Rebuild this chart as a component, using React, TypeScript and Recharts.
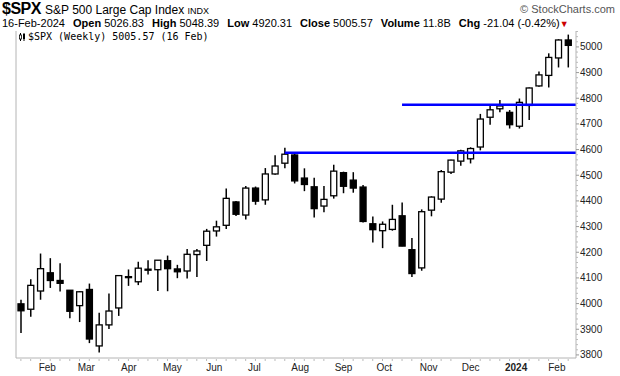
import React from 'react';
import { ComposedChart, Bar, XAxis, YAxis, ReferenceLine } from 'recharts';

// week-ending dates, one candle each
const weeks = [
  '2023-01-20', '2023-01-27', '2023-02-03', '2023-02-10', '2023-02-17', '2023-02-24',
  '2023-03-03', '2023-03-10', '2023-03-17', '2023-03-24', '2023-03-31', '2023-04-06',
  '2023-04-14', '2023-04-21', '2023-04-28', '2023-05-05', '2023-05-12', '2023-05-19',
  '2023-05-26', '2023-06-02', '2023-06-09', '2023-06-16', '2023-06-23', '2023-06-30',
  '2023-07-07', '2023-07-14', '2023-07-21', '2023-07-28', '2023-08-04', '2023-08-11',
  '2023-08-18', '2023-08-25', '2023-09-01', '2023-09-08', '2023-09-15', '2023-09-22',
  '2023-09-29', '2023-10-06', '2023-10-13', '2023-10-20', '2023-10-27', '2023-11-03',
  '2023-11-10', '2023-11-17', '2023-11-24', '2023-12-01', '2023-12-08', '2023-12-15',
  '2023-12-22', '2023-12-29', '2024-01-05', '2024-01-12', '2024-01-19', '2024-01-26',
  '2024-02-02', '2024-02-09', '2024-02-16',
];

const opens = [
  3999, 3978, 4049, 4120, 4090, 4052, 3992, 4055, 3835, 3917, 3983, 4102,
  4085, 4130, 4132, 4167, 4135, 4127, 4191, 4227, 4283, 4305, 4396, 4345,
  4450, 4404, 4505, 4547, 4579, 4489, 4455, 4380, 4420, 4510, 4481, 4454,
  4311, 4284, 4289, 4342, 4210, 4139, 4364, 4407, 4512, 4555, 4564, 4610,
  4726, 4759, 4745, 4691, 4772, 4848, 4889, 4957, 5027,
];
const highs = [
  4015, 4095, 4195, 4177, 4157, 4052, 4048, 4078, 3964, 4039, 4111, 4133,
  4163, 4169, 4170, 4187, 4151, 4213, 4213, 4291, 4323, 4448, 4400, 4458,
  4456, 4528, 4578, 4607, 4585, 4527, 4490, 4458, 4541, 4514, 4512, 4462,
  4339, 4320, 4385, 4394, 4256, 4367, 4418, 4520, 4560, 4599, 4609, 4739,
  4778, 4793, 4754, 4799, 4842, 4904, 4975, 5030, 5048,
];
const lows = [
  3885, 3949, 4015, 4061, 4047, 3943, 3928, 3846, 3809, 3901, 3952, 4069,
  4072, 4113, 4049, 4048, 4099, 4098, 4104, 4166, 4261, 4291, 4341, 4328,
  4385, 4385, 4502, 4527, 4468, 4438, 4335, 4356, 4409, 4430, 4432, 4316,
  4238, 4216, 4284, 4223, 4104, 4128, 4340, 4393, 4505, 4537, 4546, 4597,
  4697, 4745, 4682, 4682, 4715, 4845, 4842, 4920, 4920,
];
const closes = [
  3972, 4071, 4136, 4090, 4079, 3970, 4046, 3862, 3917, 3971, 4109, 4105,
  4138, 4134, 4169, 4136, 4124, 4192, 4205, 4282, 4299, 4410, 4348, 4450,
  4399, 4505, 4536, 4582, 4478, 4464, 4370, 4406, 4516, 4457, 4450, 4320,
  4288, 4309, 4328, 4224, 4117, 4358, 4415, 4514, 4559, 4595, 4604, 4719,
  4755, 4770, 4697, 4784, 4840, 4891, 4959, 5027, 5006,
];

// month labels sit at the calendar start of each month
const monthStarts = [
  '2023-02-01', '2023-03-01', '2023-04-01', '2023-05-01', '2023-06-01', '2023-07-01',
  '2023-08-01', '2023-09-01', '2023-10-01', '2023-11-01', '2023-12-01', '2024-01-01', '2024-02-01',
];
const monthLabels = ['Feb', 'Mar', 'Apr', 'May', 'Jun', 'Jul', 'Aug', 'Sep', 'Oct', 'Nov', 'Dec', '2024', 'Feb'];

const priceLabels = [3800, 3900, 4000, 4100, 4200, 4300, 4400, 4500, 4600, 4700, 4800, 4900, 5000];

// hand-drawn horizontal lines: start week index and level
const lineStarts = [27, 39];
const lineLevels = [4588, 4775];

const X_DOMAIN: [number, number] = [-0.5, 56.8];
const Y_DOMAIN: [number, number] = [3788, 5062];

const DAY = 86400000;
const t0 = Date.parse(weeks[0]);
const monthPos = monthStarts.map(d => Math.round(((Date.parse(d) - t0) / (7 * DAY)) * 1000) / 1000);
const labelAt = new Map<number, string>(monthPos.map((p, k) => [p, monthLabels[k]]));

const rows = weeks.map((w, i) => ({
  i,
  week: w,
  open: opens[i],
  high: highs[i],
  low: lows[i],
  close: closes[i],
  range: [lows[i], highs[i]],
}));

const xTicks = Array.from(new Set([...weeks.map((_, i) => i), ...monthPos])).sort((a, b) => a - b);
const yTicks: number[] = [];
for (let v = 3800; v <= 5060; v += 20) yTicks.push(v);

const FONT = 'Arial, "Liberation Sans", sans-serif';

function Candle(props: any) {
  const { x, y, width, height, payload } = props;
  if (!payload) return null;
  const { open, close, high, low } = payload;
  const top = Math.min(y, y + height);
  const h = Math.abs(height);
  const k = h / (high - low || 1);
  const toY = (v: number) => top + (high - v) * k;
  const cx = x + width / 2;
  const up = close >= open;
  const bTop = toY(Math.max(open, close));
  const bBot = toY(Math.min(open, close));
  return (
    <g>
      <line x1={cx} x2={cx} y1={top} y2={top + h} stroke="#000" strokeWidth={1.5} />
      <rect x={x} y={bTop} width={width} height={Math.max(bBot - bTop, 1)}
        fill={up ? '#fff' : '#000'} stroke="#000" strokeWidth={1.3} />
    </g>
  );
}

function XTick(props: any) {
  const { x, y, payload } = props;
  const label = labelAt.get(payload.value);
  if (label) {
    return (
      <text x={x + 1} y={y + 13} fontSize={10} fontFamily={FONT} fill="#222"
        fontWeight={label === '2024' ? 700 : 400}>{label}</text>
    );
  }
  return <line x1={x} x2={x} y1={y + 1} y2={y + 3} stroke="#bbb" />;
}

function YTick(props: any) {
  const { x, y, payload } = props;
  if (priceLabels.includes(payload.value)) {
    return (
      <g>
        <line x1={x} x2={x + 3} y1={y} y2={y} stroke="#999" />
        <text x={x + 4} y={y + 3.5} fontSize={10} fontFamily={FONT} fill="#222">{payload.value}</text>
      </g>
    );
  }
  return <line x1={x} x2={x + 2} y1={y} y2={y} stroke="#bbb" />;
}

function Header() {
  const b: React.CSSProperties = { fontWeight: 700 };
  return (
    <>
      <div style={{ position: 'absolute', left: 2, top: 0, fontFamily: FONT, fontSize: 16, fontWeight: 700, letterSpacing: -0.5 }}>$SPX</div>
      <div style={{ position: 'absolute', left: 45, top: 3, fontFamily: '"Liberation Sans Narrow", "Arial Narrow", Arial', fontSize: 12 }}>
        S&amp;P 500 Large Cap Index <span style={{ fontSize: 9, fontFamily: FONT }}>INDX</span>
      </div>
      <div style={{ position: 'absolute', right: 5, top: 3, fontFamily: FONT, fontSize: 11, color: '#555' }}>© StockCharts.com</div>
      <div style={{ position: 'absolute', left: 2, top: 17, fontFamily: FONT, fontSize: 11, whiteSpace: 'pre', display: 'flex', gap: 8 }}>
        <span>16-Feb-2024</span>
        <span><span style={b}>Open</span> 5026.83</span>
        <span><span style={b}>High</span> 5048.39</span>
        <span><span style={b}>Low</span> 4920.31</span>
        <span><span style={b}>Close</span> 5005.57</span>
        <span><span style={b}>Volume</span> 11.8B</span>
        <span><span style={b}>Chg</span> -21.04 (-0.42%)<span style={{ color: '#c00', fontSize: 9 }}>▼</span></span>
      </div>
      <svg style={{ position: 'absolute', left: 19, top: 33 }} width={7} height={8}>
        <line x1={1.5} x2={1.5} y1={0} y2={8} stroke="#000" />
        <rect x={0.5} y={2} width={2} height={4} fill="#fff" stroke="#000" strokeWidth={0.8} />
        <line x1={5} x2={5} y1={0} y2={8} stroke="#000" />
        <rect x={4} y={1} width={2} height={5} fill="#000" />
      </svg>
      <div style={{ position: 'absolute', left: 28, top: 31, fontFamily: '"DejaVu Sans Mono", monospace', fontSize: 10, whiteSpace: 'pre' }}>
        $SPX (Weekly) 5005.57 (16 Feb)
      </div>
    </>
  );
}

export default function App() {
  return (
    <div style={{ position: 'absolute', left: 0, top: 0, width: 620, height: 376, background: '#fff', overflow: 'hidden' }}>
      <div style={{ position: 'absolute', left: 0, top: 0 }}>
        <ComposedChart width={620} height={376} data={rows} margin={{ top: 31, right: 0, bottom: 0, left: 16 }}>
          <XAxis dataKey="i" type="number" domain={X_DOMAIN} allowDataOverflow ticks={xTicks} interval={0}
            tick={(p: any) => <XTick {...p} />} tickLine={false} tickSize={0} tickMargin={0} height={18}
            axisLine={{ stroke: '#b4b4b4' }} />
          <YAxis orientation="right" domain={Y_DOMAIN} allowDataOverflow ticks={yTicks} interval={0}
            tick={(p: any) => <YTick {...p} />} tickLine={false} tickSize={0} tickMargin={0} width={44}
            axisLine={{ stroke: '#b4b4b4' }} />
          <ReferenceLine x={X_DOMAIN[0]} stroke="#b4b4b4" />
          <Bar dataKey="range" barSize={6} shape={(p: any) => <Candle {...p} />} isAnimationActive={false} />
          {lineLevels.map((lv, k) => (
            <ReferenceLine key={k} segment={[{ x: lineStarts[k], y: lv }, { x: X_DOMAIN[1], y: lv }]}
              stroke="#0000ff" strokeWidth={2.5} />
          ))}
        </ComposedChart>
      </div>
      <Header />
    </div>
  );
}
